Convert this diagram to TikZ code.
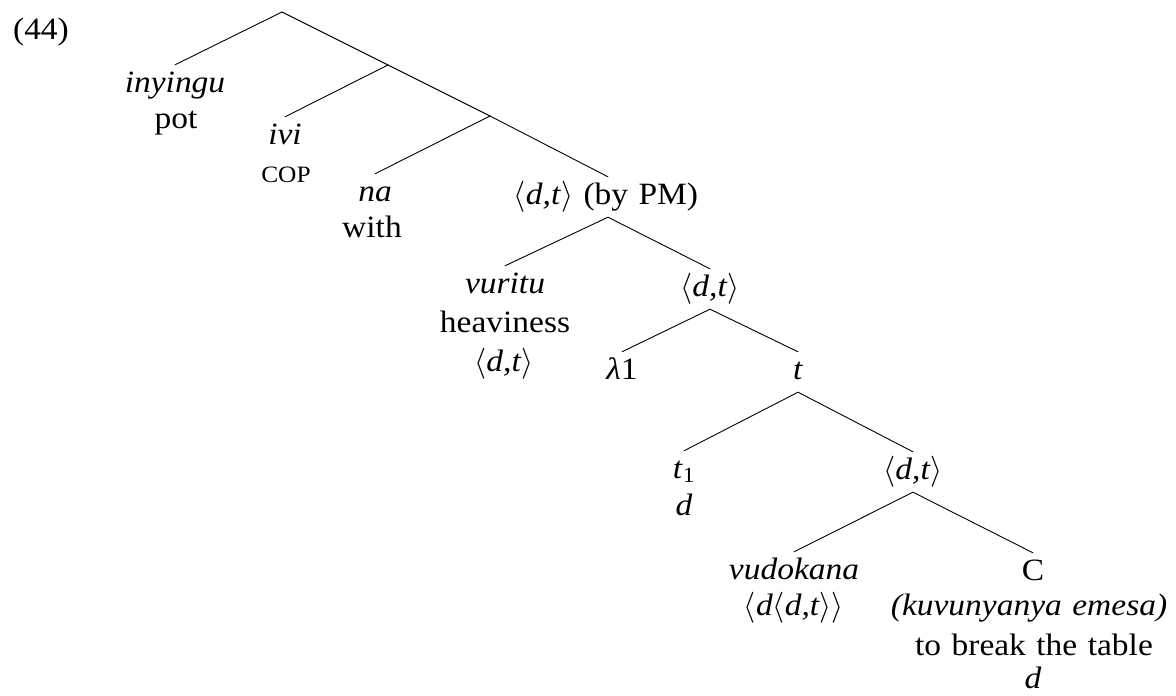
\RequirePackage{fix-cm}
\documentclass[tikz,border=0pt]{standalone}
\usepackage{fontspec}
\setmainfont{Liberation Serif}[FakeStretch=1.08, WordSpace=1.25]
\newcommand\ang[1]{$\langle$#1$\rangle$}
\begin{document}
\begin{tikzpicture}[x=1pt,y=-1pt,
  every node/.style={font=\fontsize{31}{37}\selectfont},
  lbl/.style={anchor=base, inner xsep=0pt, inner ysep=6pt, text height=21pt, text depth=7pt},
  sub/.style={anchor=base, inner sep=0pt},
  edge/.style={line width=0.9pt, line cap=round}]
\useasboundingbox (0,0) rectangle (1176,696);
% internal points
\coordinate (root) at (282,12);
\coordinate (x1) at (388,65);
\coordinate (x2) at (490,116);
% labels
\node[sub] (ex) at (41,39) {(44)};
\node[lbl] (inyingu) at (175,92) {\textit{inyingu}};
\node[sub] (pot) at (176,128) {pot};
\node[lbl] (ivi) at (285,144) {\textit{ivi}};
\node[sub,font=\fontsize{23.5}{28}\selectfont] (cop) at (286,182) {COP};
\node[lbl] (na) at (375,201) {\textit{na}};
\node[sub] (with) at (372,237) {with};
\node[lbl] (pm) at (606,204) {\ang{\textit{d,t}} (by PM)};
\node[lbl] (vuritu) at (505,293) {\textit{vuritu}};
\node[sub] (heav) at (505,332) {heaviness};
\node[sub] (vt) at (504,371) {\ang{\textit{d,t}}};
\node[lbl] (dt1) at (710,296) {\ang{\textit{d,t}}};
\node[lbl] (lam) at (622,379) {\textit{λ}1};
\node[lbl] (t) at (798,379) {\textit{t}};
\node[lbl] (t1) at (684,478) {\textit{t}\textsubscript{1}};
\node[sub] (t1d) at (684,515) {\textit{d}};
\node[lbl] (dt2) at (913,479) {\ang{\textit{d,t}}};
\node[lbl] (vud) at (794,579) {\textit{vudokana}};
\node[sub] (vudt) at (794,615) {\ang{\textit{d}\ang{\textit{d,t}}}};
\node[lbl] (C) at (1033,580) {C};
\node[sub] (kuv) at (1029,615) {\textit{(kuvunyanya emesa)}};
\node[sub] (tbt) at (1034,655) {to break the table};
\node[sub] (cd) at (1033,688) {\textit{d}};
% edges
\draw[edge] (root) -- (inyingu.north);
\draw[edge] (root) -- (x1);
\draw[edge] (x1) -- (ivi.north);
\draw[edge] (x1) -- (x2);
\draw[edge] (x2) -- (na.north);
\draw[edge] (x2) -- (pm.north -| 608,0);
\draw[edge] (pm.south -| 608,0) -- (vuritu.north);
\draw[edge] (pm.south -| 608,0) -- (dt1.north);
\draw[edge] (dt1.south) -- (lam.north);
\draw[edge] (dt1.south) -- (t.north);
\draw[edge] (t.south) -- (t1.north);
\draw[edge] (t.south) -- (dt2.north);
\draw[edge] (dt2.south) -- (vud.north);
\draw[edge] (dt2.south) -- (C.north);
\end{tikzpicture}
\end{document}
